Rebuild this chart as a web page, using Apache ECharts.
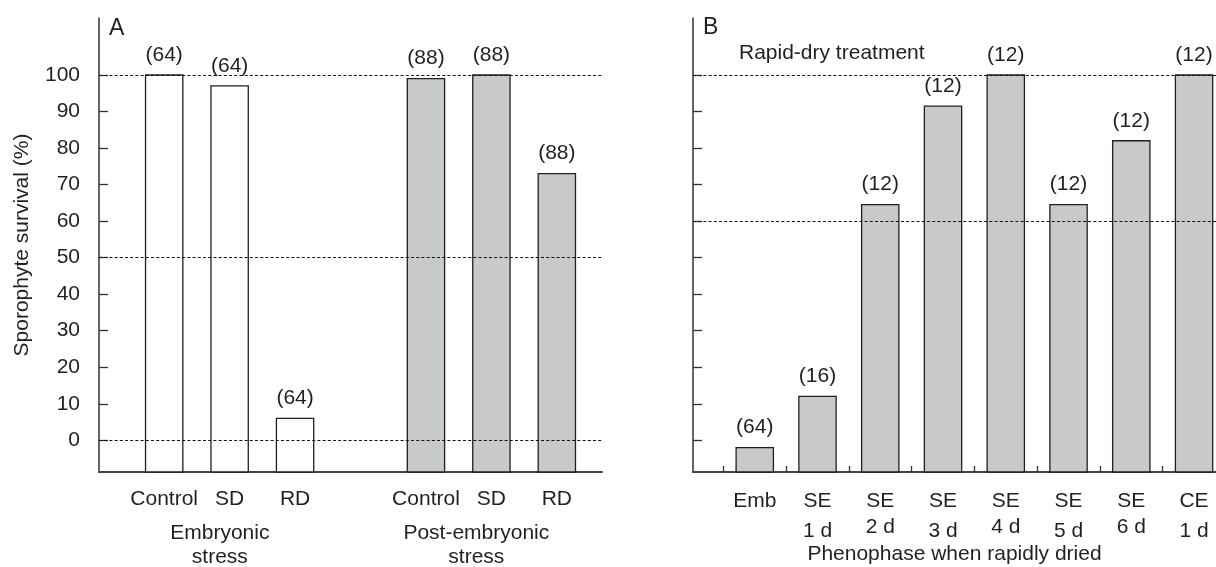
<!DOCTYPE html>
<html><head><meta charset="utf-8">
<script src="https://cdn.jsdelivr.net/npm/echarts@6/dist/echarts.min.js"></script>
<style>html,body{margin:0;padding:0;background:#fff}#c{width:1216px;height:567px}</style>
</head><body><div id="c"></div>
<script>
// ---- data ----
const catsA = ['Control', 'SD', 'RD', '', 'Control', 'SD', 'RD'];
const survivalA = [100, 97, 6, null, 99, 100, 73];
const countsA = [64, 64, 64, null, 88, 88, 88];
const greyA = [0, 0, 0, null, 1, 1, 1];
const groupsA = ['Embryonic\nstress', 'Post-embryonic\nstress'];
const groupPosA = [0.85, 4.77];
const phaseB = ['Emb', 'SE', 'SE', 'SE', 'SE', 'SE', 'SE', 'CE'];
const daysB = ['', '1 d', '2 d', '3 d', '4 d', '5 d', '6 d', '1 d'];
const survivalB = [-2, 12, 64.5, 91.5, 100, 64.5, 82, 100];
const countsB = [64, 16, 12, 12, 12, 12, 12, 12];
const yTicks = [0, 10, 20, 30, 40, 50, 60, 70, 80, 90, 100];
const refLinesA = [0, 50, 100];
const refLinesB = [60, 100];
const tickBoundsB = [-0.5, 0.5, 1.5, 2.5, 3.5, 4.5, 5.5, 6.5];

const Y_MIN = -8.68, Y_MAX = 115.6;
const FONT = 'Liberation Sans, Arial, Helvetica, sans-serif';
const INK = '#231f20';
const GREY = '#c8c9cb';

function buildData(vals, counts, grey) {
  const out = [];
  vals.forEach((v, i) => { if (v !== null) out.push([i, v, counts[i], grey[i]]); });
  return out;
}
function renderBar(params, api) {
  const x = api.value(0), v = api.value(1);
  const top = api.coord([x, v]);
  const base = api.coord([x, Y_MIN]);
  const w = 37.3;
  return {
    type: 'group',
    children: [
      { type: 'rect', shape: { x: top[0] - w / 2, y: top[1], width: w, height: base[1] - top[1] },
        style: { fill: api.value(3) ? GREY : '#ffffff', stroke: INK, lineWidth: 1.3 } },
      { type: 'text', x: top[0], y: top[1] - 20,
        style: { text: '(' + api.value(2) + ')', align: 'center', verticalAlign: 'middle',
                 fontFamily: FONT, fontSize: 21, fill: INK } }
    ]
  };
}
function refLineSeries(x, y, lines) {
  return {
    type: 'line', xAxisIndex: x, yAxisIndex: y, data: [], z: 10, silent: true,
    markLine: {
      symbol: 'none', silent: true, animation: false, label: { show: false },
      lineStyle: { type: [3, 2.2], color: '#111', width: 1.2 },
      data: lines.map(v => ({ yAxis: v }))
    }
  };
}
const txt = { fontFamily: FONT, fontSize: 21, color: INK };
const yAxisBase = (labels) => ({
  type: 'value', min: Y_MIN, max: Y_MAX, splitLine: { show: false },
  axisLine: { show: true, onZero: false, lineStyle: { color: '#333', width: 1.5 } },
  axisTick: { show: true, inside: true, length: 9, customValues: yTicks, lineStyle: { color: '#333', width: 1.3 } },
  axisLabel: labels ? Object.assign({ show: true, customValues: yTicks, margin: 19 }, txt) : { show: false }
});
function labelB(v) {
  const i = Math.round(v);
  if (!daysB[i]) return phaseB[i];
  return phaseB[i] + '\n{' + (i % 2 === 0 ? 'hi' : 'lo') + '|' + daysB[i] + '}';
}

const chart = echarts.init(document.getElementById('c'), null, { renderer: 'canvas' });
chart.setOption({
  animation: false,
  backgroundColor: '#ffffff',
  grid: [
    { left: 99, right: 614, top: 18, bottom: 95, containLabel: false, outerBoundsMode: 'none' },
    { left: 693, right: 0, top: 18, bottom: 95, containLabel: false, outerBoundsMode: 'none' }
  ],
  xAxis: [
    { gridIndex: 0, type: 'value', min: -0.996, max: 6.69, position: 'bottom', splitLine: { show: false },
      axisLine: { show: true, onZero: false, lineStyle: { color: '#444', width: 2 } },
      axisTick: { show: false },
      axisLabel: Object.assign({ customValues: [0, 1, 2, 4, 5, 6], formatter: v => catsA[Math.round(v)], margin: 15, lineHeight: 24 }, txt) },
    { gridIndex: 0, type: 'value', min: -0.996, max: 6.69, position: 'bottom', offset: 0, splitLine: { show: false },
      axisLine: { show: false, onZero: false }, axisTick: { show: false },
      axisLabel: Object.assign({ customValues: groupPosA, formatter: v => groupsA[v < 3 ? 0 : 1], margin: 49, lineHeight: 24 }, txt) },
    { gridIndex: 1, type: 'value', min: -0.984, max: 7.35, position: 'bottom', splitLine: { show: false },
      axisLine: { show: true, onZero: false, lineStyle: { color: '#444', width: 2 } },
      axisTick: { show: true, inside: true, length: 6, customValues: tickBoundsB, lineStyle: { color: '#333', width: 1.3 } },
      axisLabel: Object.assign({ customValues: [0, 1, 2, 3, 4, 5, 6, 7], formatter: labelB, margin: 15, lineHeight: 28,
        rich: { hi: { fontFamily: FONT, fontSize: 21, color: INK, lineHeight: 25 },
                lo: { fontFamily: FONT, fontSize: 21, color: INK, lineHeight: 32 } } }, txt),
      name: 'Phenophase when rapidly dried', nameLocation: 'middle', nameGap: 72, nameMoveOverlap: false,
      nameTextStyle: Object.assign({}, txt) }
  ],
  yAxis: [
    Object.assign(yAxisBase(true), { gridIndex: 0, name: 'Sporophyte survival (%)', nameLocation: 'middle', nameGap: 66,
      nameMoveOverlap: false, nameTextStyle: Object.assign({}, txt) }),
    Object.assign(yAxisBase(false), { gridIndex: 1 })
  ],
  series: [
    { type: 'custom', xAxisIndex: 0, yAxisIndex: 0, renderItem: renderBar, clip: false,
      data: buildData(survivalA, countsA, greyA) },
    { type: 'custom', xAxisIndex: 2, yAxisIndex: 1, renderItem: renderBar, clip: false,
      data: buildData(survivalB, countsB, survivalB.map(() => 1)) },
    refLineSeries(0, 0, refLinesA),
    refLineSeries(2, 1, refLinesB)
  ],
  graphic: [
    { type: 'text', left: 109, top: 17, style: { text: 'A', fontFamily: FONT, fontSize: 23, fill: INK } },
    { type: 'text', left: 703, top: 16, style: { text: 'B', fontFamily: FONT, fontSize: 23, fill: INK } },
    { type: 'text', left: 739, top: 43, style: { text: 'Rapid-dry treatment', fontFamily: FONT, fontSize: 21, fill: INK } }
  ]
});
</script></body></html>
